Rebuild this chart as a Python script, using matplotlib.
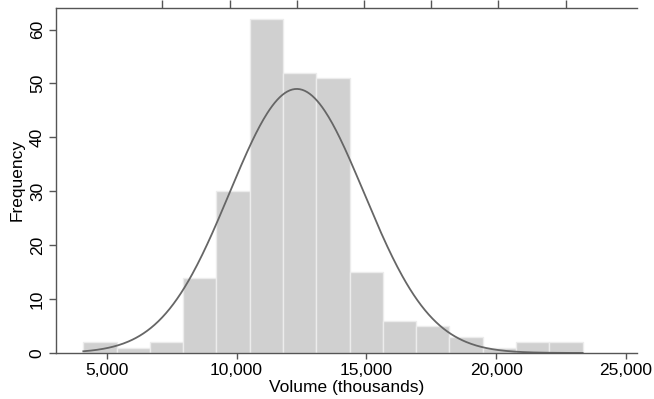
import numpy as np
import matplotlib
matplotlib.use("Agg")
import matplotlib.pyplot as plt
import matplotlib.ticker as ticker

plt.rcParams['font.family'] = ['Liberation Sans', 'DejaVu Sans']

# histogram data
bin_start = 4100
bin_width = 1282
counts = [2, 1, 2, 14, 30, 62, 52, 51, 15, 6, 5, 3, 1, 2, 2]
x_ticks = [5000, 10000, 15000, 20000, 25000]
y_ticks = [0, 10, 20, 30, 40, 50, 60]
# fitted normal
mean = 12320
sd = 2589
top_ticks = [mean + k * sd for k in [-2, -1, 0, 1, 2, 3, 4]]

edges = bin_start + bin_width * np.arange(len(counts) + 1)
n = sum(counts)

fig = plt.figure(figsize=(6.54, 3.99), dpi=100)
ax = fig.add_axes([0.0856, 0.1153, 0.8884, 0.8659])

ax.bar(edges[:-1], counts, width=bin_width, align='edge',
       color='#d0d0d0', edgecolor='#ececec', linewidth=1.0, zorder=1)

xs = np.linspace(edges[0], edges[-1], 400)
ys = n * bin_width / (sd * np.sqrt(2 * np.pi)) * np.exp(-0.5 * ((xs - mean) / sd) ** 2)
ax.plot(xs, ys, color='#666666', linewidth=1.3, zorder=2)

ax.set_xlim(3047, 25424)
ax.set_ylim(0, 64.1)
ax.set_xticks(x_ticks)
ax.xaxis.set_major_formatter(ticker.FuncFormatter(lambda v, p: f"{int(v):,}"))
ax.set_yticks(y_ticks)
for lab in ax.get_yticklabels():
    lab.set_rotation(90)
    lab.set_va('center')

ax.spines['right'].set_visible(False)
for s in ['left', 'bottom', 'top']:
    ax.spines[s].set_color('#555555')
    ax.spines[s].set_linewidth(1.0)

ax.tick_params(axis='x', direction='out', length=4, width=1, color='#555555',
               labelsize=12.5, pad=3)
ax.tick_params(axis='y', direction='out', length=5, width=1, color='#555555',
               labelsize=12.5, pad=3)

top = ax.secondary_xaxis('top')
top.set_xticks(top_ticks)
top.set_xticklabels([])
top.tick_params(direction='out', length=6, width=1, color='#555555')
top.spines['top'].set_visible(False)

ax.set_xlabel("Volume (thousands)", fontsize=12.5, labelpad=2)
ax.set_ylabel("Frequency", fontsize=12.5, labelpad=4)

plt.savefig('out.png', dpi=100)
